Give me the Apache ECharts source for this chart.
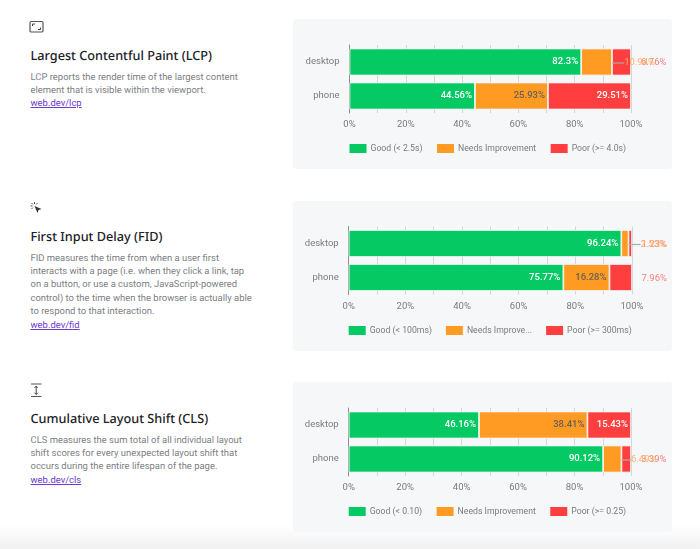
<!DOCTYPE html>
<html><head><meta charset="utf-8">
<script src="https://cdn.jsdelivr.net/npm/echarts@6/dist/echarts.min.js"></script>
<style>
html,body{margin:0;padding:0;background:#fff;width:700px;height:549px;overflow:hidden}
body{position:relative;font-family:Roboto,sans-serif;text-rendering:geometricPrecision}
.panel{position:absolute;left:293px;width:379px;height:150px;background:#f6f7f9;border-radius:3px}
.chart{position:absolute;left:0;top:0;width:379px;height:150px}
.title{position:absolute;left:30.5px;font:500 12.7px/18px "Noto Sans",sans-serif;color:#202124;white-space:nowrap}
.body{position:absolute;left:30.5px;font:400 9.45px/13.4px Roboto,sans-serif;color:#7d8185;white-space:nowrap}
.body a{color:#6d3bd1;text-decoration:underline}
svg.icon{position:absolute}
.fade{position:absolute;left:0;top:525px;width:700px;height:24px;background:linear-gradient(#ffffff,#f1f1f1)}
</style></head><body>
<div class="fade"></div>
<svg class="icon" style="left:29px;top:20px" width="16" height="14" viewBox="0 0 16 14"><rect x="1" y="1.5" width="13" height="10.5" rx="1.2" fill="none" stroke="#555" stroke-width="1.2"/><path d="M3.5 6V4h2.5M11.5 7.5v2H9" fill="none" stroke="#444" stroke-width="1"/></svg>
<div class="title" style="top:46px">Largest Contentful Paint (LCP)</div>
<div class="body" style="top:70.5px">LCP reports the render time of the largest content<br>element that is visible within the viewport.<br><a>web.dev/lcp</a></div>
<svg class="icon" style="left:29px;top:201px" width="15" height="15" viewBox="0 0 15 15"><path d="M5.5 5l7 3-3 1-1 3z" fill="#333"/><path d="M5.5 1v2M1.5 5h2M2.5 2l1.3 1.3M8.5 2L7.3 3.3M2.5 8l1.3-1.3" stroke="#555" stroke-width="1"/></svg>
<div class="title" style="top:227px">First Input Delay (FID)</div>
<div class="body" style="top:251.5px">FID measures the time from when a user first<br>interacts with a page (i.e. when they click a link, tap<br>on a button, or use a custom, JavaScript-powered<br>control) to the time when the browser is actually able<br>to respond to that interaction.<br><a>web.dev/fid</a></div>
<svg class="icon" style="left:30px;top:383px" width="13" height="15" viewBox="0 0 13 15"><path d="M1 1h10.5M1 13.5h10.5" stroke="#555" stroke-width="1"/><path d="M6.2 3v8.5M4.5 4.8L6.2 3l1.7 1.8M4.5 9.7l1.7 1.8 1.7-1.8" fill="none" stroke="#444" stroke-width="1"/></svg>
<div class="title" style="top:409px">Cumulative Layout Shift (CLS)</div>
<div class="body" style="top:433.5px">CLS measures the sum total of all individual layout<br>shift scores for every unexpected layout shift that<br>occurs during the entire lifespan of the page.<br><a>web.dev/cls</a></div>
<div class="panel" style="top:19px"><div class="chart" id="c1"></div></div>
<div class="panel" style="top:201px"><div class="chart" id="c2"></div></div>
<div class="panel" style="top:382px"><div class="chart" id="c3"></div></div>
<script>
const categories = ['desktop', 'phone'];
const tickStep = 10;

const lcpNames = ['Good (< 2.5s)', 'Needs Improvement', 'Poor (>= 4.0s)'];
const lcpGood = [82.3, 44.56];
const lcpNeeds = [10.94, 25.93];
const lcpPoor = [6.76, 29.51];

const fidNames = ['Good (< 100ms)', 'Needs Improve...', 'Poor (>= 300ms)'];
const fidGood = [96.24, 75.77];
const fidNeeds = [2.53, 16.28];
const fidPoor = [1.23, 7.96];

const clsNames = ['Good (< 0.10)', 'Needs Improvement', 'Poor (>= 0.25)'];
const clsGood = [46.16, 90.12];
const clsNeeds = [38.41, 6.49];
const clsPoor = [15.43, 3.39];

const fills = ['#05c963', '#ff9a22', '#ff3f3f'];
const insideText = ['#ffffff', '#66615a', '#ffffff'];
const outsideText = ['#ffffff', '#ffb266', '#ff7f7f'];
const seriesZ = [2, 3, 2];
const outsideThreshold = 11;

function build(id, names, rows, look) {
  const chart = echarts.init(document.getElementById(id), null, {renderer: 'canvas'});
  const series = rows.map((vals, s) => ({
    name: names[s],
    type: 'bar',
    stack: 'total',
    z: seriesZ[s],
    barWidth: look.bar,
    animation: false,
    itemStyle: {color: fills[s], borderColor: '#f6f7f9', borderWidth: 0.8},
    labelLine: {show: false},
    labelLayout: function (p) {
      const raw = vals[p.dataIndex];
      if (raw >= outsideThreshold) return {};
      return {x: look.outRight[s], align: 'right',
              y: p.labelRect.y + p.labelRect.height / 2, verticalAlign: 'middle'};
    },
    data: vals.map((raw) => {
      const out = raw < outsideThreshold;
      return {
        value: raw,
        labelLine: {show: out && s === 1, lineStyle: {color: '#ababab', width: 1.2}, length2: 0, smooth: false},
        label: {
          show: true, position: 'insideRight', distance: 3, offset: [0, 1],
          formatter: raw + '%',
          color: out ? outsideText[s] : insideText[s],
          fontFamily: 'Roboto', fontSize: 9.5, fontWeight: out ? 400 : 500
        }
      };
    })
  }));
  chart.setOption({
    animation: false,
    grid: {left: look.left, top: look.top, width: look.width, height: 68, containLabel: false},
    legend: {
      left: look.left, top: look.legendTop, itemWidth: 17, itemHeight: 9, itemGap: look.gap,
      icon: 'rect', selectedMode: false, padding: 0,
      itemStyle: {borderWidth: 0},
      textStyle: {fontFamily: 'Roboto', fontSize: 8.7, color: '#7b7b7b', padding: [0, 0, 0, -1]},
      data: names
    },
    xAxis: {
      type: 'value', min: 0, max: 100, interval: tickStep,
      axisLine: {show: false}, axisTick: {show: false},
      splitLine: {show: true, lineStyle: {color: '#d4d5d7', width: 1}},
      axisLabel: {
        fontFamily: 'Roboto', fontSize: 9.5, color: '#7b7b7b', margin: 7, hideOverlap: false,
        formatter: v => v % 20 === 0 ? v + '%' : ''
      }
    },
    yAxis: {
      type: 'category', inverse: true, data: categories,
      axisLine: {show: true, lineStyle: {color: '#8f8f8f', width: 1}},
      axisTick: {show: false}, splitLine: {show: false},
      axisLabel: {fontFamily: 'Roboto', fontSize: 9.5, color: '#7b7b7b', margin: 10, padding: [2, 0, 0, 0]}
    },
    series: series
  });
}

build('c1', lcpNames, [lcpGood, lcpNeeds, lcpPoor],
  {left: 56.5, top: 26, width: 281.5, bar: 27, legendTop: 125, gap: 14.5, outRight: [0, 362, 373.5]});
build('c2', fidNames, [fidGood, fidNeeds, fidPoor],
  {left: 55.7, top: 25.5, width: 283.3, bar: 27, legendTop: 125, gap: 14, outRight: [0, 373, 374]});
build('c3', clsNames, [clsGood, clsNeeds, clsPoor],
  {left: 55.7, top: 26, width: 282.3, bar: 27, legendTop: 125, gap: 14.5, outRight: [0, 363.5, 373.5]});
</script>
</body></html>
